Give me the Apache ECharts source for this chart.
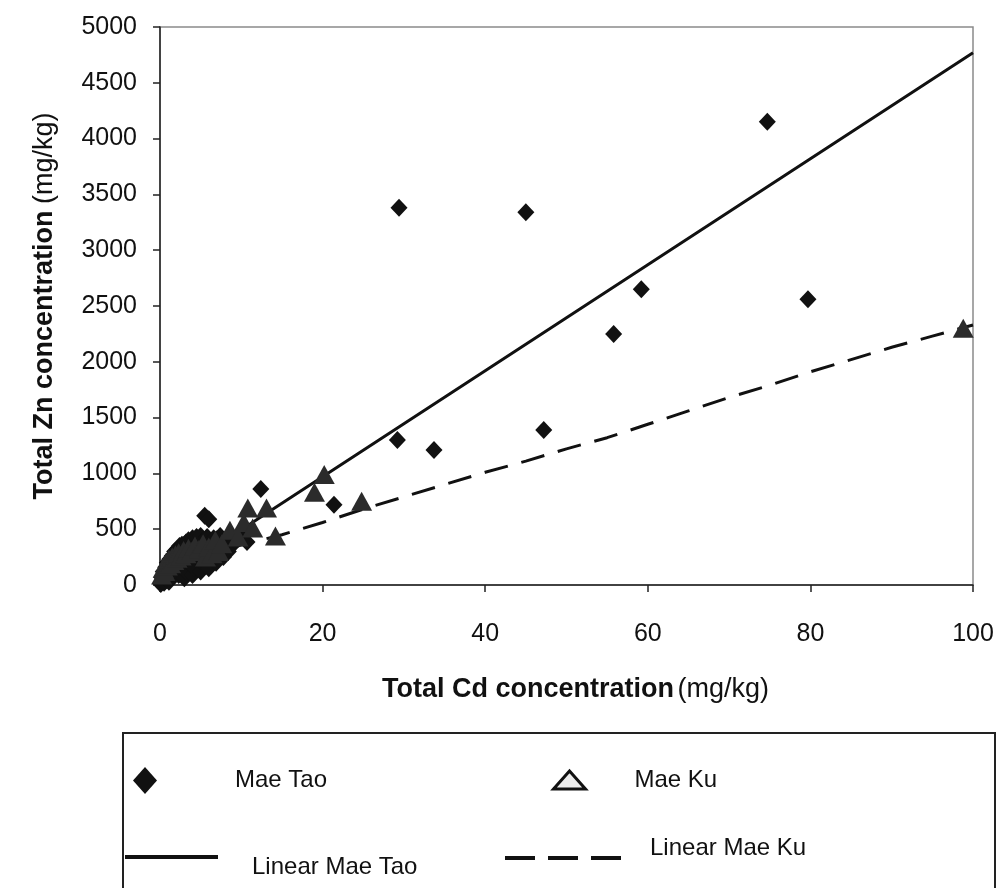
<!DOCTYPE html>
<html>
<head>
<meta charset="utf-8">
<script src="https://cdn.jsdelivr.net/npm/echarts@6/dist/echarts.min.js"></script>
<style>
  html, body { margin: 0; padding: 0; background: #fff; }
  #chart { width: 998px; height: 888px; }
</style>
</head>
<body>
<div id="chart"></div>
<script>
// Total Cd (mg/kg) vs Total Zn (mg/kg)
var maeTao = [
  [0.1, 10], [0.2, 70], [0.3, 40], [0.4, 120], [0.5, 20], [0.6, 80], [0.7, 160], [0.8, 50],
  [0.9, 200], [1.0, 110], [1.1, 30], [1.2, 230], [1.3, 140], [1.4, 70], [1.5, 260], [1.6, 170],
  [1.7, 100], [1.8, 300], [1.9, 210], [2.0, 130], [2.1, 320], [2.2, 240], [2.3, 90], [2.4, 350],
  [2.5, 190], [2.6, 270], [2.7, 360], [2.8, 150], [3.0, 230], [3.0, 60], [3.1, 300], [3.2, 380],
  [3.3, 110], [3.4, 260], [3.5, 400], [3.6, 330], [3.7, 190], [3.9, 290], [4.0, 420], [4.0, 90],
  [4.1, 350], [4.2, 150], [4.4, 310], [4.5, 430], [4.6, 370], [4.8, 230], [5.0, 330], [5.0, 440],
  [5.0, 120], [5.2, 390], [5.4, 180], [5.5, 620], [5.7, 300], [5.8, 430], [6.0, 590], [6.0, 150],
  [6.2, 360], [6.3, 300], [6.5, 260], [6.6, 420], [6.9, 200], [7.0, 410], [7.2, 330], [7.4, 440],
  [7.8, 380], [7.8, 250], [8.2, 420], [8.4, 300], [8.8, 350], [9.2, 400], [10.1, 470], [10.7, 385],
  [12.4, 860], [21.4, 720], [29.2, 1300], [29.4, 3380], [33.7, 1210], [45.0, 3340], [47.2, 1390],
  [55.8, 2250], [59.2, 2650], [74.7, 4150], [79.7, 2560]
];

var maeKu = [
  [0.2, 90], [0.4, 150], [0.6, 120], [0.7, 200], [0.9, 170], [1.1, 230], [1.3, 190], [1.5, 250],
  [1.7, 220], [1.9, 270], [2.1, 240], [2.3, 290], [2.6, 260], [2.9, 310], [3.2, 280], [3.5, 330],
  [3.9, 300], [4.3, 350], [4.8, 320], [5.3, 370], [5.6, 250], [6.0, 340], [6.4, 280], [6.8, 400],
  [7.2, 300], [7.6, 370], [8.6, 490], [9.6, 430], [10.3, 560], [10.8, 690], [11.4, 510],
  [13.1, 690], [14.2, 440], [19.0, 830], [20.2, 990], [24.8, 750], [98.8, 2300]
];

// trend lines
var taoFitX = [0, 10, 20, 30, 40, 50, 60, 70, 80, 90, 100];
var taoFitY = [20, 495, 970, 1445, 1920, 2395, 2870, 3345, 3820, 4295, 4770];
var kuFitX = [0, 5, 10, 15, 20, 25, 30, 35, 40, 45, 50, 55, 60, 65, 70, 75, 80, 85, 90, 95, 100];
var kuFitY = [60, 230, 360, 450, 560, 680, 790, 900, 1010, 1110, 1220, 1320, 1440, 1560, 1680,
  1790, 1910, 2020, 2130, 2230, 2330];

var xTicks = [0, 100, 20];
var yTicks = [0, 5000, 500];

var font = 'Arial, "Liberation Sans", sans-serif';

function pairs(xs, ys) {
  return xs.map(function (x, i) { return [x, ys[i]]; });
}

var chart = echarts.init(document.getElementById('chart'));

var legendText = { fontFamily: font, fontSize: 24, color: '#111' };
var titleRich = {
  b: { fontFamily: font, fontSize: 27, fontWeight: 'bold', color: '#111' },
  n: { fontFamily: font, fontSize: 27, color: '#111' }
};

chart.setOption({
  backgroundColor: '#fff',
  animation: false,
  grid: {
    left: 160, right: 25, top: 27, bottom: 303,
    show: true, borderColor: '#8a8a8a', borderWidth: 1.5
  },
  xAxis: {
    type: 'value',
    min: xTicks[0], max: xTicks[1], interval: xTicks[2],
    name: '{b|Total Cd concentration} {n|(mg/kg)}',
    nameLocation: 'middle',
    nameGap: 91,
    nameTextStyle: { rich: titleRich, padding: [0, 0, 0, 18] },
    axisLine: { lineStyle: { color: '#222', width: 1.5 } },
    axisTick: { show: true, inside: false, length: 7, lineStyle: { color: '#222', width: 1.5 } },
    axisLabel: { fontFamily: font, fontSize: 25, color: '#111', margin: 37 },
    splitLine: { show: false }
  },
  yAxis: {
    type: 'value',
    min: yTicks[0], max: yTicks[1], interval: yTicks[2],
    name: '{b|Total Zn concentration}  {n|(mg/kg)}',
    nameLocation: 'middle',
    nameRotate: 90,
    nameGap: 102,
    nameTextStyle: { rich: titleRich },
    axisLine: { show: true, lineStyle: { color: '#222', width: 1.5 } },
    axisTick: { show: true, inside: false, length: 7, lineStyle: { color: '#222', width: 1.5 } },
    axisLabel: {
      fontFamily: font, fontSize: 25, color: '#111', margin: 23,
      formatter: function (v) { return String(v); }
    },
    splitLine: { show: false }
  },
  legend: [
    {
      data: ['Mae Tao'], icon: 'diamond', left: 133, top: 767, padding: 0,
      itemWidth: 24, itemHeight: 27,
      textStyle: Object.assign({ padding: [0, 0, 0, 73] }, legendText)
    },
    {
      data: [{
        name: 'Mae Ku', icon: 'triangle',
        itemStyle: { color: '#ececec', borderColor: '#111', borderWidth: 3 }
      }],
      left: 552, top: 768, padding: 0,
      itemWidth: 32, itemHeight: 18,
      textStyle: Object.assign({ padding: [0, 0, 0, 44] }, legendText)
    },
    {
      // line sits 10px above the text centre
      data: [{ name: 'Linear Mae Tao', icon: 'path://M0,0H93V4H0ZM0,24L0.01,24Z' }],
      left: 125, top: 855, padding: 0,
      itemWidth: 93, itemHeight: 24,
      itemStyle: { borderWidth: 0 },
      textStyle: Object.assign({ padding: [0, 0, 0, 29] }, legendText)
    },
    {
      // dashes sit 10px below the text centre
      data: [{
        name: 'Linear Mae Ku',
        icon: 'path://M0,0L0.01,0ZM0,20H30V24H0ZM43,20H73V24H43ZM86,20H116V24H86Z'
      }],
      left: 505, top: 836, padding: 0,
      itemWidth: 116, itemHeight: 24,
      itemStyle: { borderWidth: 0 },
      textStyle: Object.assign({ padding: [0, 0, 0, 24] }, legendText)
    }
  ],
  graphic: [
    {
      type: 'rect',
      shape: { x: 123, y: 733, width: 872, height: 180 },
      style: { fill: 'none', stroke: '#222', lineWidth: 2 },
      silent: true
    }
  ],
  series: [
    {
      name: 'Linear Mae Tao',
      type: 'line',
      data: pairs(taoFitX, taoFitY),
      symbol: 'none',
      lineStyle: { color: '#111', width: 3 },
      itemStyle: { color: '#111' },
      z: 3
    },
    {
      name: 'Linear Mae Ku',
      type: 'line',
      data: pairs(kuFitX, kuFitY),
      symbol: 'none',
      lineStyle: { color: '#111', width: 3, type: [24, 14] },
      itemStyle: { color: '#111' },
      z: 3
    },
    {
      name: 'Mae Tao',
      type: 'scatter',
      data: maeTao,
      symbol: 'diamond',
      symbolSize: [17, 18],
      itemStyle: { color: '#111', opacity: 1 },
      z: 4
    },
    {
      name: 'Mae Ku',
      type: 'scatter',
      data: maeKu,
      symbol: 'triangle',
      symbolSize: [21, 19],
      itemStyle: { color: '#2b2b2b', opacity: 1 },
      z: 4
    }
  ]
});
</script>
</body>
</html>
